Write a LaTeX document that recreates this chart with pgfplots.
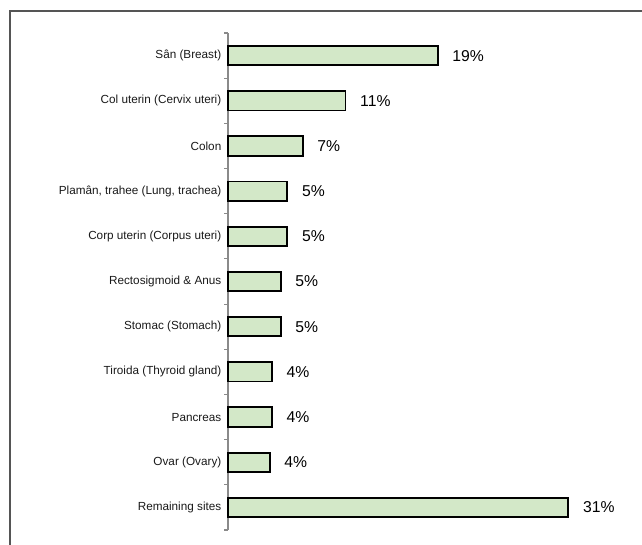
\documentclass[border=0pt]{standalone}
\usepackage{fontspec}
\setmainfont{Liberation Sans}
\usepackage{pgfplots}
\usepackage{pgfplotstable}
\pgfplotsset{compat=1.18}
\definecolor{barg}{HTML}{D3E8C8}
\definecolor{framec}{HTML}{555555}
\definecolor{axc}{HTML}{8A8A8A}
\pgfplotstableread{
y val lab
0 19.1 19
1 10.7 11
2 6.8 7
3 5.4 5
4 5.4 5
5 4.8 5
6 4.8 5
7 4.0 4
8 4.0 4
9 3.8 4
10 31.0 31
}\data
\begin{document}
\begin{tikzpicture}
\useasboundingbox (0,0) rectangle (481.5pt,408pt);
\clip (0,0) rectangle (481.5pt,408pt);
\draw[framec, line width=0.9pt] (7.5pt,399.75pt) rectangle (520pt,-30pt);
\begin{axis}[
  at={(171pt,10.5pt)}, anchor=south west,
  width=294pt, height=372.75pt, scale only axis,
  xmin=0, xmax=35.7,
  ymin=-0.5, ymax=10.5, y dir=reverse,
  axis x line=none,
  axis y line*=left,
  y axis line style={axc, line width=0.8pt, -},
  ytick={0,...,10},
  yticklabels={Sân (Breast),Col uterin (Cervix uteri),Colon,{Plamân, trahee (Lung, trachea)},Corp uterin (Corpus uteri),Rectosigmoid \& Anus,Stomac (Stomach),Tiroida (Thyroid gland),Pancreas,Ovar (Ovary),Remaining sites},
  major tick length=0pt,
  minor ytick={-0.5,0.5,...,10.5},
  minor tick length=3pt,
  tick align=outside,
  minor tick style={axc, line width=0.8pt},
  yticklabel style={font=\fontsize{8.8}{10}\selectfont, text=black!90, xshift=-1.5pt},
  /pgf/number format/assume math mode=true,
  clip=false,
]
\addplot[xbar, fill=barg, draw=black, line width=1.4pt, bar width=14.5pt,
  point meta=explicit,
  nodes near coords={\pgfmathprintnumber[assume math mode=true]{\pgfplotspointmeta}\%},
  nodes near coords align={horizontal},
  every node near coord/.append style={font=\fontsize{11.8}{13}\selectfont, text=black, anchor=west, xshift=7pt}]
  table[x=val, y=y, meta=lab] {\data};
\end{axis}
\end{tikzpicture}
\end{document}
